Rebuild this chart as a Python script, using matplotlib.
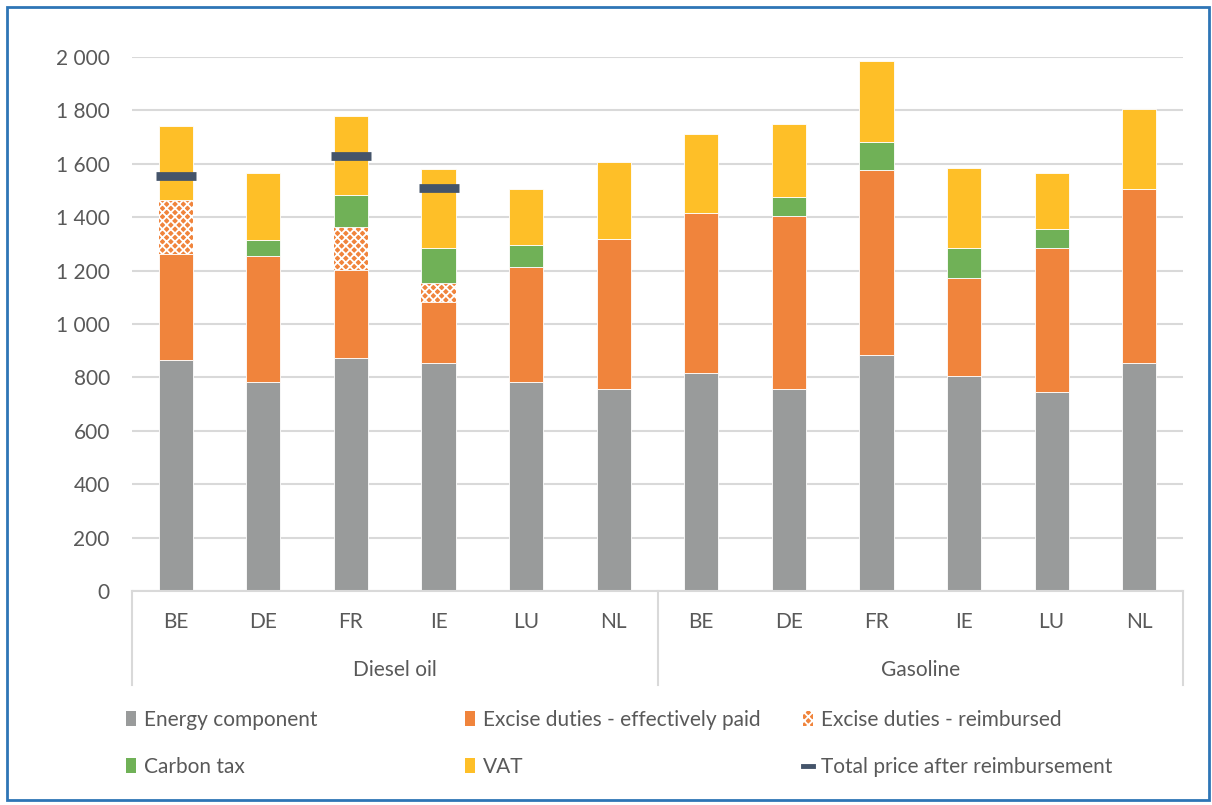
import numpy as np
import matplotlib
matplotlib.use("Agg")
import matplotlib.pyplot as plt
from matplotlib.patches import Patch, Rectangle
from matplotlib.lines import Line2D
from matplotlib.ticker import FuncFormatter

# fuel prices per 1000 litres, split into components
countries = ['BE', 'DE', 'FR', 'IE', 'LU', 'NL']
fuels = ['Diesel oil', 'Gasoline']

energy = [864, 784, 873, 854, 784, 755,
          815, 755, 885, 805, 745, 855]
excise_paid = [400, 470, 331, 228, 431, 565,
               599, 649, 690, 369, 539, 650]
excise_reimb = [200, 0, 160, 72, 0, 0,
                0, 0, 0, 0, 0, 0]
carbon_tax = [0, 60, 118, 130, 80, 0,
              0, 70, 106, 110, 73, 0]
vat = [277, 252, 297, 298, 211, 285,
       296, 274, 303, 301, 208, 300]
total_after = [1553, np.nan, 1629, 1510, np.nan, np.nan,
               np.nan, np.nan, np.nan, np.nan, np.nan, np.nan]

c_energy = '#999B9B'
c_excise = '#F0843C'
c_carbon = '#70B157'
c_vat = '#FEBF28'
c_total = '#44546A'
c_text = '#595959'
c_grid = '#D9D9D9'

plt.rcParams['font.family'] = ['Lato', 'DejaVu Sans']
plt.rcParams['hatch.linewidth'] = 1.3

fig = plt.figure(figsize=(12.12, 8.05), dpi=100)
ax = fig.add_axes([132/1212, 1-591/805, 1051/1212, 534/805])

x = np.arange(len(energy))
w = 0.39
bottom = np.zeros(len(x))

ax.bar(x, energy, w, bottom=bottom, color=c_energy, edgecolor='white', lw=0.6, zorder=2)
bottom += energy
ax.bar(x, excise_paid, w, bottom=bottom, color=c_excise, edgecolor='white', lw=0.6, zorder=2)
bottom += excise_paid
ax.bar(x, excise_reimb, w, bottom=bottom, color=c_excise, edgecolor='white', lw=0,
       hatch='xxxx', zorder=2)
bottom += excise_reimb
ax.bar(x, carbon_tax, w, bottom=bottom, color=c_carbon, edgecolor='white', lw=0.6, zorder=2)
bottom += carbon_tax
ax.bar(x, vat, w, bottom=bottom, color=c_vat, edgecolor='white', lw=0.6, zorder=2)

ax.plot(x, total_after, ls='none', marker='_', ms=29.5, mew=6.3, color=c_total, zorder=3)

ax.set_xlim(-0.5, 11.5)
ax.set_ylim(0, 2000)
ax.set_yticks(range(0, 2001, 200))
ax.yaxis.set_major_formatter(FuncFormatter(lambda v, p: f'{int(v):,}'.replace(',', ' ')))
ax.tick_params(axis='y', length=0, pad=16, labelsize=15, labelcolor=c_text)
ax.set_xticks([])
ax.grid(axis='y', color=c_grid, lw=1.5, zorder=0)
for s in ['top', 'right', 'left']:
    ax.spines[s].set_visible(False)
ax.spines['bottom'].set_color(c_grid)
ax.spines['bottom'].set_linewidth(1.5)

# two-level category axis
tr = ax.get_xaxis_transform()
for i in x:
    ax.text(i, -0.058, countries[i % 6], transform=tr, ha='center', va='center',
            fontsize=15, color=c_text)
for g, name in enumerate(fuels):
    ax.text(g*6 + 2.5, -0.148, name, transform=tr, ha='center', va='center',
            fontsize=15, color=c_text)
for xs in [-0.5, 5.5, 11.5]:
    ax.add_line(Line2D([xs, xs], [0, -0.176], transform=tr, color=c_grid, lw=1.5,
                       clip_on=False))

# legend in three columns
h_energy = Patch(facecolor=c_energy)
h_excise = Patch(facecolor=c_excise)
h_reimb = Patch(facecolor=c_excise, edgecolor='white', hatch='xxxx', lw=0)
h_carbon = Patch(facecolor=c_carbon)
h_vat = Patch(facecolor=c_vat)
h_total = Line2D([], [], color=c_total, lw=3.5)

cols = [([h_energy, h_carbon], ['Energy component', 'Carbon tax'], 126),
        ([h_excise, h_vat], ['Excise duties - effectively paid', 'VAT'], 465),
        ([h_reimb, h_total], ['Excise duties - reimbursed', 'Total price after reimbursement'], 803)]
for hs, labs, px in cols:
    leg = fig.legend(hs, labs, loc='center left', bbox_to_anchor=(px/1212, 1-743.5/805),
                     frameon=False, fontsize=15, labelcolor=c_text, borderpad=0,
                     borderaxespad=0, handlelength=0.5, handleheight=0.75,
                     handletextpad=0.35, labelspacing=1.3)

fig.add_artist(Rectangle((7/1212, 5/805), 1202/1212, 793/805, transform=fig.transFigure,
                         fill=False, ec='#2E75B6', lw=2))

fig.savefig('out.png', dpi=100)
